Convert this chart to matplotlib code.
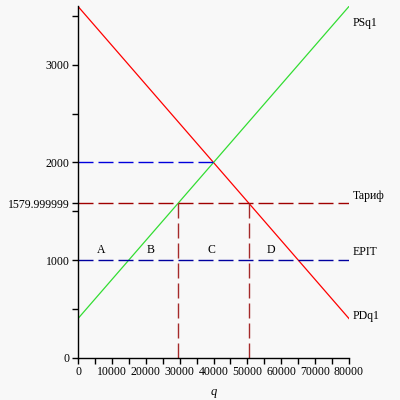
import matplotlib
matplotlib.use('Agg')
import matplotlib.pyplot as plt
from matplotlib.ticker import MultipleLocator

# kривые спроса и предложения
q_ends = [0, 80000]
pd_vals = [3600, 400]   # PDq1
ps_vals = [400, 3600]   # PSq1

tarif = 1579.999999
epit = 1000
p_eq = 2000
q_eq = 40000
q_s_tarif = 29500
q_d_tarif = 50500

xticks = [0, 10000, 20000, 30000, 40000, 50000, 60000, 70000, 80000]
yticks = [0, 1000, tarif, 2000, 3000]
ytick_labels = ['0', '1000', '1579.999999', '2000', '3000']

areas = ['A', 'B', 'C', 'D']
area_q = [6800, 21500, 39300, 57000]
area_p = 1100

bg = '#f8f8f8'
fnt = {'family': ['Liberation Serif', 'DejaVu Serif'], 'size': 8.5}

fig = plt.figure(figsize=(4, 4), dpi=100, facecolor=bg)
ax = fig.add_axes([0.195, 0.106, 0.6775, 0.878])
ax.set_facecolor(bg)

ax.plot(q_ends, pd_vals, color='#ff0000', lw=0.9)
ax.plot(q_ends, ps_vals, color='#33dd33', lw=0.9)

# штрихи ~15px / 5px
dash = (0, (10.8, 3.6))
ax.plot([0, q_eq], [p_eq, p_eq], color='#0000dd', lw=1, linestyle=dash)
ax.plot(q_ends, [tarif, tarif], color='#a00000', lw=1, linestyle=dash)
ax.plot(q_ends, [epit, epit], color='#0000a0', lw=1, linestyle=dash)
ax.plot([q_s_tarif, q_s_tarif], [0, tarif], color='#a52a2a', lw=1, linestyle=dash)
ax.plot([q_d_tarif, q_d_tarif], [0, tarif], color='#a52a2a', lw=1, linestyle=dash)

ax.text(81000, ps_vals[1] - 170, 'PSq1', fontdict=fnt, va='center')
ax.text(81000, tarif + 80, 'Тариф', fontdict=fnt, va='center')
ax.text(81000, epit + 80, 'EPIT', fontdict=fnt, va='center')
ax.text(81000, pd_vals[1] + 30, 'PDq1', fontdict=fnt, va='center')
for a, q in zip(areas, area_q):
    ax.text(q, area_p, a, fontdict=fnt, ha='center', va='center')

ax.set_xlim(0, 80000)
ax.set_ylim(0, 3600)
ax.set_xticks(xticks)
ax.set_xticklabels([str(v) for v in xticks], fontdict=fnt)
ax.set_yticks(yticks)
ax.set_yticklabels(ytick_labels, fontdict=fnt)
ax.xaxis.set_minor_locator(MultipleLocator(5000))
ax.yaxis.set_minor_locator(MultipleLocator(500))
ax.tick_params(which='both', length=4, width=1, pad=2)
ax.set_xlabel('q', fontdict={'family': ['Liberation Serif'], 'size': 9, 'style': 'italic'}, labelpad=6)

for s in ['top', 'right']:
    ax.spines[s].set_visible(False)
for s in ['left', 'bottom']:
    ax.spines[s].set_linewidth(1)
    ax.spines[s].set_clip_on(False)

fig.savefig('out.png', dpi=100, facecolor=bg)
